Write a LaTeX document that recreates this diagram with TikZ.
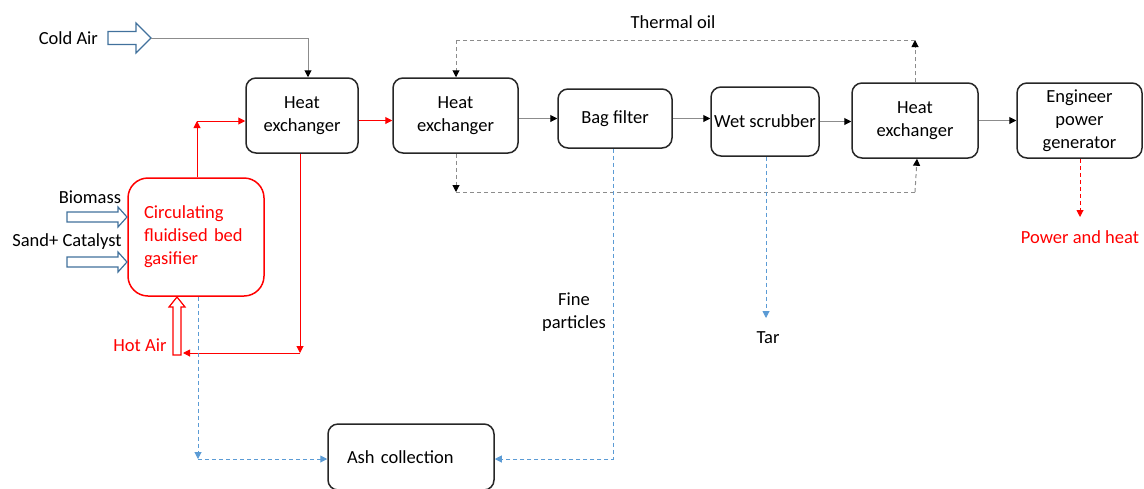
\documentclass[tikz,border=0pt]{standalone}
\usepackage{fontspec}
\setmainfont{Carlito}
\usetikzlibrary{arrows.meta,positioning}
\definecolor{FlowRed}{HTML}{FF0000}
\definecolor{FeedBlue}{HTML}{41719C}
\definecolor{AshBlue}{HTML}{5B9BD5}
\definecolor{LineGray}{HTML}{8C8C8C}
\tikzstyle{unit} = [draw=black!85,line width=0.75pt,rounded corners=5pt,align=center,inner sep=1pt]
\tikzstyle{gasline} = [draw=LineGray,line width=0.5pt,-{Triangle[length=3.5pt,width=3.5pt,black]}]
\tikzstyle{oil} = [gasline,dash pattern=on 2pt off 1.5pt]
\tikzstyle{hot} = [draw=FlowRed,line width=0.5pt,-{Triangle[length=3.5pt,width=3.5pt,FlowRed]}]
\tikzstyle{ash} = [draw=AshBlue,line width=0.5pt,dash pattern=on 2pt off 1.5pt,-{Triangle[length=3.5pt,width=3.5pt,AshBlue]}]
\tikzstyle{feed} = [line width=0.6pt,fill=white]
% hollow block arrow: colour, base, angle, length, head length, shaft half width, head half width
\newcommand{\blockarrow}[7]{%
  \draw[feed,draw=#1,shift={#2},rotate=#3]
    (0,-#6) -- (#4-#5,-#6) -- (#4-#5,-#7) -- (#4,0) -- (#4-#5,#7) -- (#4-#5,#6) -- (0,#6) -- cycle;}

\begin{document}
\begin{tikzpicture}[x=0.5pt,y=-0.5pt,font=\fontsize{9.25}{11.5}\selectfont]
\useasboundingbox (0,0) rectangle (1144,488);
\clip (0,0) rectangle (1144,488);

% process units
\node[unit,draw=FlowRed,text=FlowRed,rounded corners=10pt,align=left,text width=52pt,inner xsep=8pt,minimum height=59pt] (gas) at (196,237) {Circulating\\fluidised bed\\gasifier};
\node[unit,minimum width=56pt,minimum height=37.5pt] (hx1) at (302,115.5) {Heat\\exchanger};
\node[unit,minimum width=62.5pt,minimum height=37.5pt] (hx2) at (455.5,115.5) {Heat\\exchanger};
\node[unit,minimum width=57pt,minimum height=29.5pt] (bag) at (615,118.5) {Bag filter};
\node[unit,minimum width=54pt,minimum height=34.5pt] (wet) at (765,121.5) {Wet scrubber};
\node[unit,minimum width=63pt,minimum height=37.5pt] (hx3) at (915,120.5) {Heat\\exchanger};
\node[unit,minimum width=62.5pt,minimum height=37.5pt] (gen) at (1079.5,120.5) {Engineer\\power\\generator};
\node[unit,align=left,text width=64pt,inner xsep=9.5pt,minimum height=33pt] (ash) at (411,457) {Ash collection};

% labels
\node[anchor=east] (coldlbl) at (105,38) {Cold Air};
\node (biolbl) at (90,197) {Biomass};
\node (sandlbl) at (67,242) {Sand+ Catalyst};
\node[text=FlowRed] (hotlbl) at (140,345) {Hot Air};
\node (oillbl) at (673,22) {Thermal oil};
\node[align=center] (finelbl) at (574,312) {Fine\\particles};
\node (tarlbl) at (768,338) {Tar};
\node[text=FlowRed] (powlbl) at (1080,237) {Power and heat};

% feeds
\blockarrow{FeedBlue}{(108,38)}{0}{43}{15}{6.5}{15}
\blockarrow{FeedBlue}{(67,217)}{0}{60}{9}{5}{10}
\blockarrow{FeedBlue}{(67,262)}{0}{60}{9}{5}{10}
\blockarrow{FlowRed}{(177,355)}{90}{58}{10}{4}{8}

\coordinate (cold) at (151,38);
\coordinate (rise) at (197,121);
\coordinate (drop) at (300,353);
\coordinate (ret) at (183,353);
\coordinate (oiltop) at (915,40);
\coordinate (oilbot) at (456,192);
\coordinate (ashturn) at (198,459);
\coordinate (fineturn) at (613,459);
\coordinate (tarend) at (766,318);
\coordinate (powend) at (1080,217);

% gas line
\draw[gasline] (cold) -| ([xshift=3pt]hx1.north);
\draw[hot] (gas.north -| rise) -- (rise);
\draw[hot] (rise) -- (rise -| hx1.west);
\draw[hot] ([yshift=-2.5pt]hx1.east) -- ([yshift=-2.5pt]hx2.west);
\draw[hot] (hx1.south -| drop) -- (drop);
\draw[hot] (drop) -- (ret);
\draw[gasline] (bag.west -| hx2.east) -- (bag.west);
\draw[gasline] (bag.east) -- (bag.east -| wet.west);
\draw[gasline] (wet.east) -- (wet.east -| hx3.west);
\draw[gasline] (hx3) -- (gen);

% thermal oil loop
\draw[oil] (hx3.north) -- (hx3.north |- oiltop);
\draw[oil,-] (hx3.north |- oiltop) -- (oiltop -| oilbot);
\draw[oil] (oiltop -| oilbot) -- (hx2.north -| oilbot);
\draw[oil] (hx2.south -| oilbot) -- (oilbot);
\draw[oil,-] (oilbot) -- (oilbot -| hx3.north);
\draw[oil] (oilbot -| hx3.north) -- ([xshift=1pt]hx3.south);

% solids and outputs
\draw[ash] (gas.south -| ashturn) -- (ashturn);
\draw[ash] (ashturn) -- (ashturn -| ash.west);
\draw[ash] (bag.south -| fineturn) |- (fineturn -| ash.east);
\draw[ash] (wet.south -| tarend) -- (tarend);
\draw[hot,dash pattern=on 2pt off 1.5pt] (gen.south -| powend) -- (powend);
\end{tikzpicture}
\end{document}
